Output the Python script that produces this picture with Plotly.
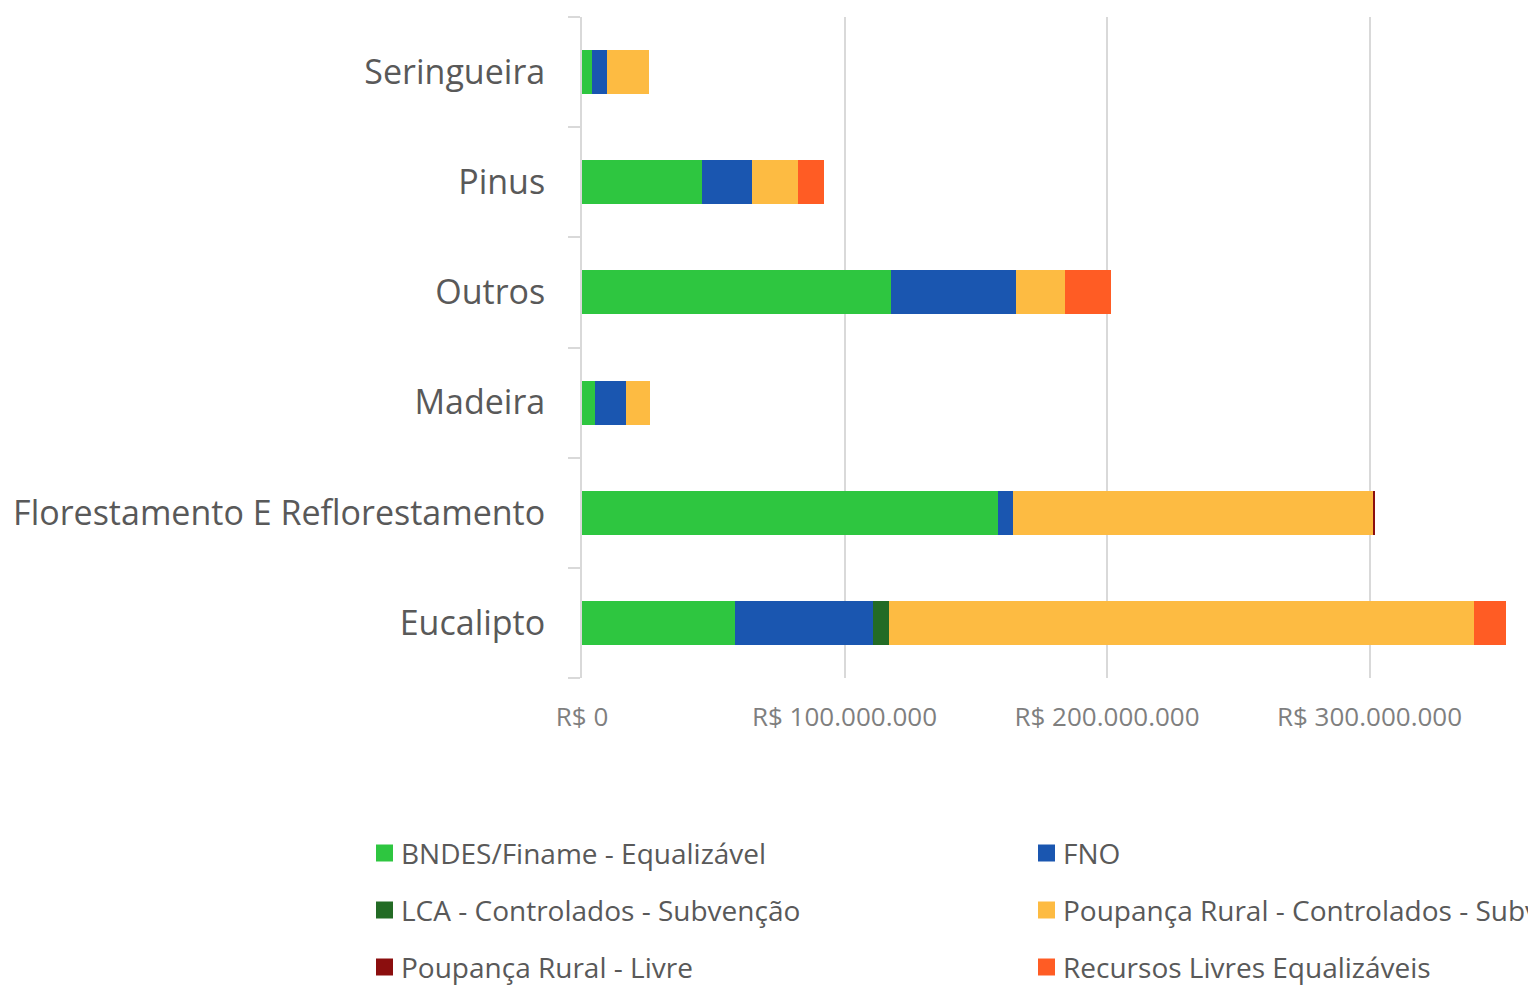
import plotly.graph_objects as go

categories = ["Eucalipto", "Florestamento E Reflorestamento", "Madeira", "Outros", "Pinus", "Seringueira"]

series_names = [
    "BNDES/Finame - Equalizável",
    "FNO",
    "LCA - Controlados - Subvenção",
    "Poupança Rural - Controlados - Subvenção",
    "Poupança Rural - Livre",
    "Recursos Livres Equalizáveis",
]

bndes = [58.3e6, 158.5e6, 5.0e6, 117.7e6, 45.7e6, 3.8e6]
fno = [52.6e6, 5.7e6, 11.8e6, 47.6e6, 19.0e6, 5.7e6]
lca = [6.1e6, 0, 0, 0, 0, 0]
poup_ctrl = [222.9e6, 137.1e6, 9.1e6, 18.7e6, 17.5e6, 16.0e6]
poup_livre = [0, 0.8e6, 0, 0, 0, 0]
rec_livres = [12.2e6, 0, 0, 17.5e6, 9.9e6, 0]

series_values = [bndes, fno, lca, poup_ctrl, poup_livre, rec_livres]
colors = ["#2EC640", "#1A56B0", "#236B25", "#FDBB42", "#8B0E0E", "#FF5C24"]

tick_vals = [0, 100e6, 200e6, 300e6]
tick_labels = ["R$ 0", "R$ 100.000.000", "R$ 200.000.000", "R$ 300.000.000"]

FONT = "Open Sans"
TXT = "#595959"

# the page body adds an 8px margin, so the figure is drawn at (8, 8)
OFF = 8
W, H = 1536 - OFF, 998 - OFF
ML, MR, MT, MB = 582 - OFF, 0, 17 - OFF, 320
PW, PH = W - ML - MR, H - MT - MB


def px_x(px):
    return (px - OFF - ML) / PW


def px_y(py):
    return (H - MB - (py - OFF)) / PH


fig = go.Figure()
for name, vals, col in zip(series_names, series_values, colors):
    fig.add_trace(go.Bar(
        y=categories, x=vals, name=name, orientation="h",
        marker=dict(color=col, line=dict(width=0)),
    ))

# custom legend: two columns, three rows
col_x = [376, 1038]
row_y = [853, 910, 967]
for i, (name, col) in enumerate(zip(series_names, colors)):
    cx = col_x[i % 2]
    ry = row_y[i // 2]
    fig.add_shape(
        type="rect", xref="paper", yref="paper",
        x0=px_x(cx), x1=px_x(cx + 17), y0=px_y(ry + 8.5), y1=px_y(ry - 8.5),
        fillcolor=col, line=dict(width=0),
    )
    fig.add_annotation(
        xref="paper", yref="paper", x=px_x(cx + 23), y=px_y(ry),
        xanchor="left", yanchor="middle", showarrow=False,
        text=name, font=dict(family=FONT, size=28, color=TXT),
    )

fig.update_layout(
    width=W, height=H,
    margin=dict(l=ML, r=MR, t=MT, b=MB, autoexpand=False),
    barmode="stack", bargap=0.6,
    plot_bgcolor="white", paper_bgcolor="white",
    showlegend=False,
    font=dict(family=FONT, color=TXT),
    xaxis=dict(
        range=[0, PW / 2.625e-6], tickvals=tick_vals, ticktext=tick_labels,
        showgrid=True, gridcolor="#D9D9D9", gridwidth=2,
        zeroline=False, showline=False, ticks="",
        tickfont=dict(family=FONT, size=26, color="#7F7F7F"),
        ticklabelstandoff=21,
    ),
    yaxis=dict(
        type="category", categoryorder="array", categoryarray=categories,
        showline=True, linecolor="#D9D9D9", linewidth=2,
        ticks="outside", tickson="boundaries", ticklen=12, tickcolor="#D9D9D9", tickwidth=2,
        tickfont=dict(family=FONT, size=34, color=TXT),
        ticklabelstandoff=28,
        showgrid=False,
    ),
)

fig.write_html("out.html")
